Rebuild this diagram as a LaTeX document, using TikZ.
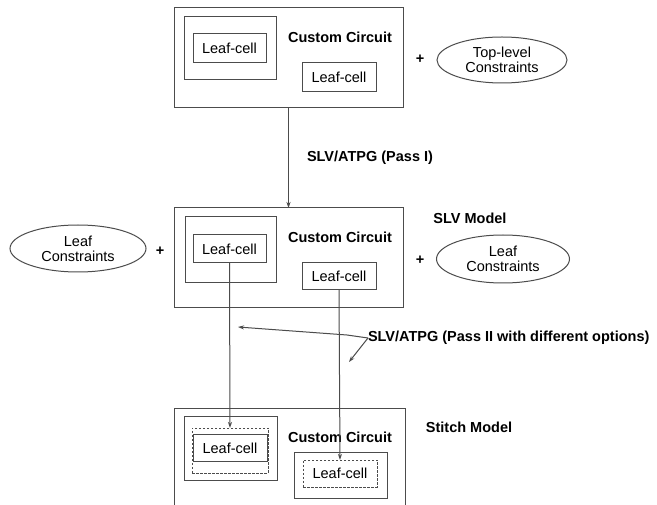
\documentclass[tikz,border=0pt]{standalone}
\usepackage{fontspec}
\setmainfont{Liberation Sans}
\usetikzlibrary{arrows.meta,shapes.geometric}
\begin{document}
\begin{tikzpicture}[x=1pt,y=-1pt,
  every node/.style={inner sep=0pt,outer sep=0pt},
  line/.style={draw=black!70,line width=1pt},
  rbox/.style={line,rectangle},
  dbox/.style={draw=black!70,line width=0.8pt,dash pattern=on 2.5pt off 1.5pt,rectangle},
  leaftxt/.style={font=\fontsize{14.5}{16}\selectfont},
  btxt/.style={font=\fontsize{14.5}{16}\selectfont\bfseries},
  ell/.style={line,ellipse,font=\fontsize{14.5}{15}\selectfont,align=center},
  arr/.style={line,-{Stealth[length=6pt,width=4pt]}}
]
\useasboundingbox (0,0) rectangle (657,505);
\fill[white] (0,0) rectangle (657,505);
% ---------- top ----------
\node[rbox,minimum width=229pt,minimum height=100pt] (topbox) at (288.5,58) {};
\node[rbox,minimum width=92pt,minimum height=63pt] (tinA) at (230,48.5) {};
\node[rbox,minimum width=73pt,minimum height=29pt,leaftxt] (tleafA) at (229.5,48.5) {Leaf-cell};
\node[rbox,minimum width=74pt,minimum height=29pt,leaftxt] (tleafB) at (339,77.5) {Leaf-cell};
\node[btxt] (tcc) at (340,37) {Custom Circuit};
\node[btxt] (tplus) at (420,59) {+};
\node[ell,minimum width=130pt,minimum height=46pt] (tcons) at (502,60) {Top-level\\Constraints};
% ---------- middle ----------
\node[rbox,minimum width=229pt,minimum height=100pt] (midbox) at (288.5,258) {};
\node[rbox,minimum width=91pt,minimum height=66pt] (minA) at (230.5,250) {};
\node[rbox,minimum width=73pt,minimum height=28pt,leaftxt] (mleafA) at (229.5,249) {Leaf-cell};
\node[rbox,minimum width=74pt,minimum height=27pt,leaftxt] (mleafB) at (339,276.5) {Leaf-cell};
\node[btxt] (mcc) at (340,237) {Custom Circuit};
\node[btxt] (slv) at (470,218) {SLV Model};
\node[ell,minimum width=136pt,minimum height=47pt] (lcons) at (78,248.5) {Leaf\\Constraints};
\node[btxt] (lplus) at (160,251) {+};
\node[btxt] (rplus) at (420,260) {+};
\node[ell,minimum width=133pt,minimum height=48pt] (rcons) at (503,259) {Leaf\\Constraints};
% ---------- stitch ----------
\node[rbox,minimum width=231pt,minimum height=106pt] (stbox) at (289.5,462) {};
\node[rbox,minimum width=93pt,minimum height=64pt] (sinA) at (230.5,449) {};
\node[dbox,minimum width=76pt,minimum height=45pt] (sdashA) at (230,450.5) {};
\node[rbox,minimum width=74pt,minimum height=27pt,leaftxt] (sleafA) at (230,448.5) {Leaf-cell};
\node[rbox,minimum width=93pt,minimum height=46pt] (sinB) at (340.5,476) {};
\node[dbox,minimum width=74pt,minimum height=27pt,leaftxt] (sdashB) at (340,473.5) {Leaf-cell};
\node[btxt] (scc) at (340,437) {Custom Circuit};
\node[btxt] (stitch) at (469,427) {Stitch Model};
% ---------- connectors ----------
\draw[arr] (topbox.south) -- (midbox.north);
\node[btxt,anchor=west] (passI) at (307,158) {SLV/ATPG (Pass I)};
\draw[arr] (mleafA.south) -- (sdashA.north);
\draw[arr] (mleafB.south) -- (sdashB.north);
\node[btxt,anchor=west] (passII) at (368,338) {SLV/ATPG (Pass II with different options)};
\coordinate (bend) at (347,335);
\coordinate (endA) at (238,327);
\coordinate (endB) at (349,362);
\draw[arr] (passII.west) -- (bend) -- (endA);
\draw[arr] (passII.west) -- (endB);
\end{tikzpicture}
\end{document}
